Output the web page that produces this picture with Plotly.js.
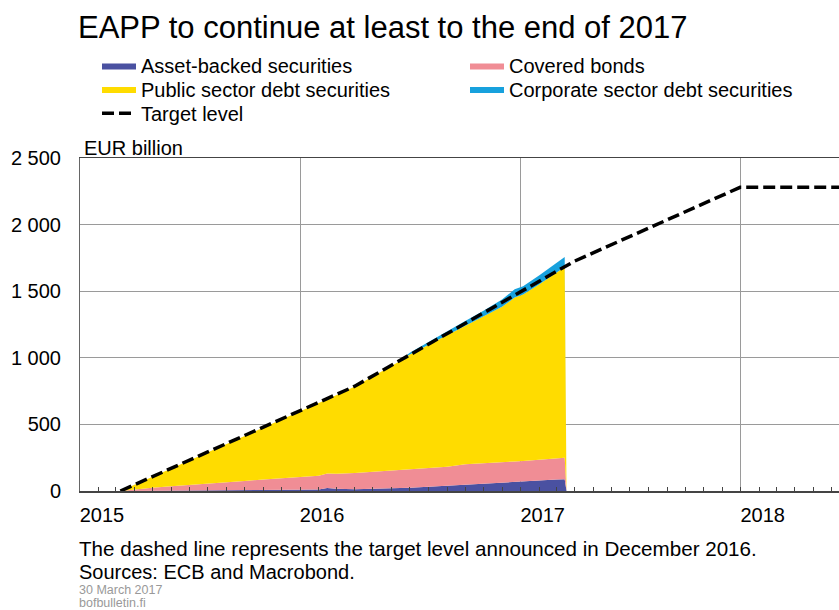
<!DOCTYPE html>
<html>
<head>
<meta charset="utf-8">
<script src="https://cdn.plot.ly/plotly-3.0.1.min.js"></script>
<style>html,body{margin:0;padding:0;background:#fff;}#chart{width:839px;height:610px;}</style>
</head>
<body>
<div id="chart"></div>
<script>
// ---- data (EUR billion, cumulative purchases under EAPP) ----
const dates = ['2015-03-09','2015-04-01','2015-05-01','2015-06-01','2015-07-01','2015-08-01','2015-09-01','2015-10-01','2015-11-01','2015-12-01',
  '2016-01-01','2016-02-01','2016-02-15','2016-03-01','2016-04-01','2016-05-01','2016-06-01','2016-06-10','2016-07-01','2016-08-01',
  '2016-09-01','2016-10-01','2016-11-01','2016-12-01','2016-12-22','2017-01-05','2017-02-01','2017-03-01','2017-03-15','2017-03-18'];
const assetBacked = [0,1,2,3,4,5,6,7,8,9, 10,12,22,16,14,16,18,19,25,32, 40,50,60,68,72,76,82,86,88,0];
const coveredBonds = [0,11,22,33,43,52,60,69,78,87, 95,103,110,114,121,129,137,139,140,140, 142,150,150,150,150,149,151,156,162,0];
const publicSector = [0,34,83,132,182,233,285,336,388,439, 495,545,556,588,650,717,785,805,860,925, 985,1040,1100,1165,1230,1250,1320,1395,1431,0];
const corporateSector = [0,0,0,0,0,0,0,0,0,0, 0,0,0,0,0,0,0,0,12,22, 28,36,45,55,62,62,66,72,75,0];

const targetDates = ['2015-03-09','2016-03-31','2017-03-31','2017-12-31','2018-06-30'];
const targetLevel = [0, 785, 1725, 2280, 2280];

const yTickVals = [0, 500, 1000, 1500, 2000, 2500];
const yTickText = ['0', '500', '1 000', '1 500', '2 000', '2 500'];

const seriesNames = ['Asset-backed securities', 'Covered bonds', 'Public sector debt securities', 'Corporate sector debt securities', 'Target level'];
const seriesColors = ['#4a51a1', '#f08d95', '#ffdc00', '#17a1dd', '#000000'];
// ---------------------------------------------------------------

const W = 839, H = 610;
const plotL = 80, plotT = 157.5, plotB = 490.7;
const plotH = plotB - plotT;
const px2x = px => (px - plotL) / (W - plotL);
const py2y = py => (plotB - py) / plotH;

const legendIds = ['legend', 'legend2', 'legend3', 'legend4', 'legend5'];
const stackSeries = [assetBacked, coveredBonds, publicSector, corporateSector];
const traces = stackSeries.map((vals, i) => ({
  type: 'scatter', mode: 'lines', x: dates, y: vals,
  name: seriesNames[i], stackgroup: 'one',
  line: {width: 0, color: seriesColors[i]}, fillcolor: seriesColors[i],
  legend: legendIds[i], hoverinfo: 'skip'
}));
traces.push({
  type: 'scatter', mode: 'lines', x: targetDates, y: targetLevel,
  name: seriesNames[4], line: {color: seriesColors[4], width: 3.5, dash: '12px,5px'},
  legend: legendIds[4], hoverinfo: 'skip'
});

const legendBase = {
  orientation: 'h', xref: 'container', yref: 'container', xanchor: 'left',
  yanchor: 'middle', itemwidth: 34,
  font: {size: 20, color: '#000'}, bgcolor: 'rgba(0,0,0,0)', borderwidth: 0
};
const colX = [97, 465];
const rowY = [65.5, 89, 113.3];
const leg = (cx, ry) => Object.assign({}, legendBase, {x: cx / W, y: 1 - ry / H});

const layout = {
  width: W, height: H,
  paper_bgcolor: '#fff', plot_bgcolor: '#fff',
  font: {family: 'Liberation Sans, Arial, sans-serif', color: '#000', size: 20},
  margin: {l: plotL, r: 0, t: plotT, b: H - plotB, pad: 0, autoexpand: false},
  showlegend: true,
  title: {text: 'EAPP to continue at least to the end of 2017', xref: 'container', yref: 'container',
    x: 78 / W, xanchor: 'left', y: 1 - 27 / H, yanchor: 'middle', font: {size: 31, color: '#000'}},
  legend: leg(colX[0], rowY[0]),
  legend2: leg(colX[1], rowY[0]),
  legend3: leg(colX[0], rowY[1]),
  legend4: leg(colX[1], rowY[1]),
  legend5: leg(colX[0], rowY[2]),
  xaxis: {
    type: 'date', range: ['2015-01-01', '2018-06-13'],
    tick0: '2015-01-01', dtick: 'M12', tickformat: '%Y',
    ticks: 'inside', ticklen: 4, tickcolor: '#444',
    ticklabelshift: 22, ticklabelstandoff: 5,
    showgrid: true, gridcolor: '#9a9a9a', gridwidth: 1,
    showline: true, linecolor: '#444', linewidth: 1.5, mirror: true,
    minor: {dtick: 'M1', tick0: '2015-01-01', ticks: 'inside', ticklen: 4, tickcolor: '#444', showgrid: false},
    zeroline: false, fixedrange: true, tickfont: {size: 20}, automargin: false
  },
  yaxis: {
    range: [0, 2500], tickvals: yTickVals, ticktext: yTickText,
    ticks: '', showgrid: true, gridcolor: '#9a9a9a', gridwidth: 1,
    showline: true, linecolor: '#666', linewidth: 1,
    zeroline: false, fixedrange: true, tickfont: {size: 20}, ticklabelstandoff: 14, automargin: false
  },
  annotations: [
    {text: 'EUR billion', xref: 'paper', yref: 'paper', x: px2x(82), y: py2y(147), xanchor: 'left', yanchor: 'middle', showarrow: false, font: {size: 20}},
    {text: 'The dashed line represents the target level announced in December 2016.', xref: 'paper', yref: 'paper', x: px2x(77), y: py2y(548), xanchor: 'left', yanchor: 'middle', showarrow: false, font: {size: 20.6}},
    {text: 'Sources: ECB and Macrobond.', xref: 'paper', yref: 'paper', x: px2x(77), y: py2y(571.5), xanchor: 'left', yanchor: 'middle', showarrow: false, font: {size: 20}},
    {text: '30 March 2017', xref: 'paper', yref: 'paper', x: px2x(77), y: py2y(590), xanchor: 'left', yanchor: 'middle', showarrow: false, font: {size: 12.5, color: '#999'}},
    {text: 'bofbulletin.fi', xref: 'paper', yref: 'paper', x: px2x(77), y: py2y(603), xanchor: 'left', yanchor: 'middle', showarrow: false, font: {size: 12.5, color: '#999'}}
  ]
};

Plotly.newPlot('chart', traces, layout, {staticPlot: true, displayModeBar: false});
</script>
</body>
</html>
